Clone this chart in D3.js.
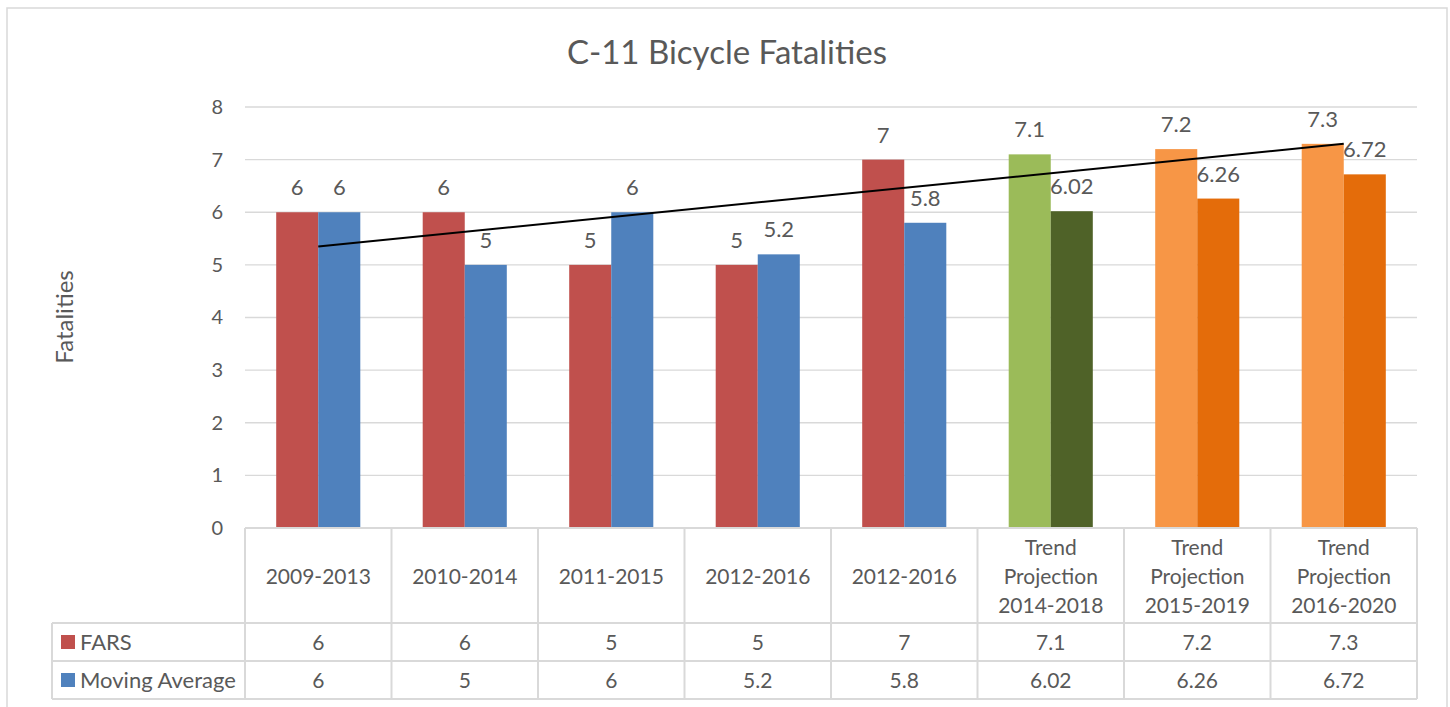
<!DOCTYPE html>
<html>
<head>
<meta charset="utf-8">
<script src="https://cdn.jsdelivr.net/npm/d3@7"></script>
<style>
  body { margin: 0; background: #fff; }
  text { font-family: Lato, "Open Sans", sans-serif; fill: #595959; }
</style>
</head>
<body>
<div id="container"></div>
<script>
const categories = [
  ["2009-2013"], ["2010-2014"], ["2011-2015"], ["2012-2016"], ["2012-2016"],
  ["Trend", "Projection", "2014-2018"], ["Trend", "Projection", "2015-2019"], ["Trend", "Projection", "2016-2020"]
];
const fars = [6, 6, 5, 5, 7, 7.1, 7.2, 7.3];
const movingAvg = [6, 5, 6, 5.2, 5.8, 6.02, 6.26, 6.72];
const farsLabels = ["6", "6", "5", "5", "7", "7.1", "7.2", "7.3"];
const maLabels = ["6", "5", "6", "5.2", "5.8", "6.02", "6.26", "6.72"];
const farsColors = ["#C0504D", "#C0504D", "#C0504D", "#C0504D", "#C0504D", "#9BBB59", "#F79646", "#F79646"];
const maColors = ["#4F81BD", "#4F81BD", "#4F81BD", "#4F81BD", "#4F81BD", "#4F6228", "#E46C0A", "#E46C0A"];
const seriesNames = ["FARS", "Moving Average"];
const yTicks = [0, 1, 2, 3, 4, 5, 6, 7, 8];

const w = 1450, h = 707;
const pLeft = 245, pRight = 1417, pTop = 107, pBottom = 528;
const tableLeft = 52;
const headerBottom = 623, row1Bottom = 661, row2Bottom = 699;
const grid = "#D9D9D9";

const svg = d3.select("#container").append("svg").attr("width", w).attr("height", h);

// outer chart border
svg.append("rect").attr("x", 7).attr("y", 8).attr("width", 1440).attr("height", 720)
  .attr("fill", "none").attr("stroke", grid).attr("stroke-width", 1.5);

const x = d3.scaleBand().domain(d3.range(categories.length)).range([pLeft, pRight]).padding(0);
const y = d3.scaleLinear().domain([0, 8]).range([pBottom, pTop]);
const barW = x.bandwidth() * 0.287;

// gridlines
svg.append("g").selectAll("line").data(yTicks.slice(1)).enter().append("line")
  .attr("x1", pLeft).attr("x2", pRight).attr("y1", d => y(d)).attr("y2", d => y(d))
  .attr("stroke", grid).attr("stroke-width", 1.3);

// y axis labels
const yAxis = d3.axisLeft(y).tickValues(yTicks).tickSize(0).tickPadding(22);
const ya = svg.append("g").attr("transform", `translate(${pLeft},0)`).call(yAxis);
ya.select(".domain").remove();
ya.selectAll("text").style("font-size", "20px").style("font-family", "Lato, sans-serif").attr("fill", "#595959");

svg.append("text").attr("transform", "translate(73,317) rotate(-90)").attr("text-anchor", "middle")
  .style("font-size", "24px").text("Fatalities");

svg.append("text").attr("x", 727).attr("y", 64).attr("text-anchor", "middle")
  .style("font-size", "33px").text("C-11 Bicycle Fatalities");

// bars
const cx = i => x(i) + x.bandwidth() / 2;
svg.append("g").selectAll("rect").data(fars).enter().append("rect")
  .attr("x", (d, i) => cx(i) - barW).attr("y", d => y(d)).attr("width", barW).attr("height", d => pBottom - y(d))
  .attr("fill", (d, i) => farsColors[i]);
svg.append("g").selectAll("rect").data(movingAvg).enter().append("rect")
  .attr("x", (d, i) => cx(i)).attr("y", d => y(d)).attr("width", barW).attr("height", d => pBottom - y(d))
  .attr("fill", (d, i) => maColors[i]);

// data labels
svg.append("g").selectAll("text").data(fars).enter().append("text")
  .attr("x", (d, i) => cx(i) - barW / 2).attr("y", d => y(d) - 17).attr("text-anchor", "middle")
  .style("font-size", "22px").text((d, i) => farsLabels[i]);
svg.append("g").selectAll("text").data(movingAvg).enter().append("text")
  .attr("x", (d, i) => cx(i) + barW / 2).attr("y", d => y(d) - 17).attr("text-anchor", "middle")
  .style("font-size", "22px").text((d, i) => maLabels[i]);

// linear trendline of FARS
const n = fars.length;
const mx = d3.mean(d3.range(n)), my = d3.mean(fars);
const slope = d3.sum(fars, (d, i) => (i - mx) * (d - my)) / d3.sum(d3.range(n), i => (i - mx) * (i - mx));
const icpt = my - slope * mx;
svg.append("path").datum([0, n - 1])
  .attr("d", d3.line().x(i => cx(i)).y(i => y(icpt + slope * i)))
  .attr("stroke", "#000").attr("stroke-width", 2).attr("fill", "none");

// data table
const t = svg.append("g").attr("stroke", grid).attr("stroke-width", 2).attr("fill", "none");
t.append("line").attr("x1", pLeft).attr("x2", pRight).attr("y1", pBottom).attr("y2", pBottom);
[headerBottom, row1Bottom, row2Bottom].forEach(yy =>
  t.append("line").attr("x1", tableLeft).attr("x2", pRight).attr("y1", yy).attr("y2", yy));
t.append("line").attr("x1", tableLeft).attr("x2", tableLeft).attr("y1", headerBottom).attr("y2", row2Bottom);
d3.range(categories.length + 1).forEach(i => {
  const xx = i < categories.length ? x(i) : pRight;
  t.append("line").attr("x1", xx).attr("x2", xx).attr("y1", pBottom).attr("y2", row2Bottom);
});

// header labels
const hdr = svg.append("g").selectAll("text").data(categories).enter().append("text")
  .attr("text-anchor", "middle").style("font-size", "21px");
hdr.each(function(lines, i) {
  const start = (pBottom + headerBottom) / 2 + 8 - (lines.length - 1) * 29 / 2;
  d3.select(this).selectAll("tspan").data(lines).enter().append("tspan")
    .attr("x", cx(i)).attr("y", (d, k) => start + k * 29).text(d => d);
});

// row values
[[farsLabels, (headerBottom + row1Bottom) / 2], [maLabels, (row1Bottom + row2Bottom) / 2]].forEach(([labels, yy]) => {
  svg.append("g").selectAll("text").data(labels).enter().append("text")
    .attr("x", (d, i) => cx(i)).attr("y", yy + 8).attr("text-anchor", "middle")
    .style("font-size", "21px").text(d => d);
});

// row legend labels
[[farsColors[0], (headerBottom + row1Bottom) / 2], [maColors[0], (row1Bottom + row2Bottom) / 2]].forEach(([c, yy], k) => {
  svg.append("rect").attr("x", 61).attr("y", yy - 7).attr("width", 14).attr("height", 14).attr("fill", c);
  svg.append("text").attr("x", 80).attr("y", yy + 8).style("font-size", "22px").text(seriesNames[k]);
});
</script>
</body>
</html>
